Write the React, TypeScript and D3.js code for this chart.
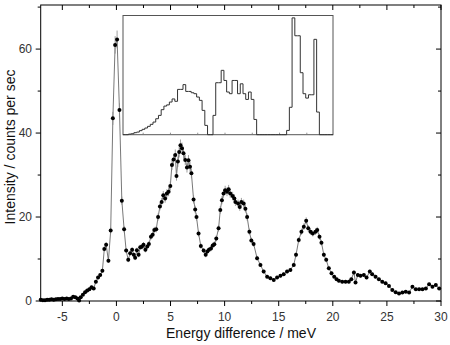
import React from "react";
import * as d3 from "d3";

const energy = [
  -7.0, -6.8, -6.6, -6.4, -6.2, -6.0, -5.8, -5.6, -5.4, -5.2, -5.0, -4.8, -4.6, -4.4, -4.2, -4.0, -3.8, -3.6, -3.45,
  -3.3, -3.1, -2.9, -2.7, -2.5, -2.3, -2.1, -1.9, -1.7, -1.5, -1.3, -1.12, -0.95, -0.74, -0.53, -0.33, -0.12, 0.06,
  0.28, 0.5, 0.71, 0.9, 1.09, 1.27, 1.45, 1.6, 1.73, 1.89, 2.05, 2.2, 2.35, 2.5, 2.68, 2.85, 3.0, 3.19, 3.35, 3.5,
  3.68, 3.85, 4.02, 4.18, 4.33, 4.5, 4.66, 4.82, 4.98, 5.13, 5.28, 5.44, 5.55, 5.68, 5.8, 5.92, 6.06, 6.2, 6.36,
  6.52, 6.66, 6.8, 6.93, 7.13, 7.28, 7.4, 7.59, 7.8, 8.06, 8.25, 8.4, 8.55, 8.74, 8.9, 9.05, 9.23, 9.44, 9.6, 9.75,
  9.9, 10.05, 10.22, 10.37, 10.52, 10.74, 10.9, 11.0, 11.24, 11.4, 11.55, 11.76, 11.92, 12.08, 12.29, 12.47, 12.68,
  13.0, 13.31, 13.61, 13.93, 14.23, 14.54, 14.85, 15.16, 15.46, 15.77, 16.08, 16.39, 16.6, 16.85, 17.1, 17.32,
  17.54, 17.73, 17.94, 18.15, 18.4, 18.56, 18.77, 18.95, 19.17, 19.39, 19.63, 19.88, 20.13, 20.35, 20.56, 20.87,
  21.18, 21.48, 21.71, 21.95, 22.1, 22.31, 22.56, 22.87, 23.12, 23.42, 23.64, 23.95, 24.26, 24.57, 24.88, 25.19,
  25.5, 25.81, 26.12, 26.43, 26.74, 27.05, 27.36, 27.67, 27.98, 28.29, 28.6, 28.9, 29.21, 29.52, 29.83,
];

const intensity = [
  0.3, 0.2, 0.2, 0.3, 0.3, 0.4, 0.3, 0.4, 0.5, 0.5, 0.6, 0.5, 0.6, 0.5, 0.6, 1.0, 0.9, 0.6, 0.1,
  0.9, 1.5, 2.1, 2.5, 2.8, 3.3, 3.0, 4.6, 5.6, 6.2, 7.2, 12.4, 13.4, 9.6, 16.8, 43.5, 61.0, 62.3,
  45.5, 23.9, 17.1, 12.0, 9.8, 11.4, 12.2, 11.0, 10.3, 12.1, 11.0, 12.8, 12.9, 13.4, 12.2, 13.0, 13.6, 15.3, 15.8, 16.9,
  17.1, 20.0, 22.5, 23.6, 25.2, 24.4, 25.6, 26.0, 27.4, 32.4, 33.7, 34.8, 29.8, 33.2, 35.5, 37.1, 36.4, 35.2, 33.6,
  31.8, 33.5, 32.0, 30.4, 24.2, 21.8, 20.0, 16.1, 13.1, 12.0, 11.0, 11.8, 12.2, 12.5, 13.2, 13.5, 14.9, 17.3, 21.7, 24.0,
  25.6, 26.4, 26.0, 26.6, 25.6, 25.0, 24.4, 23.6, 23.2, 22.4, 23.6, 23.2, 22.0, 20.0, 16.5, 14.4, 13.6,
  10.2, 8.6, 7.0, 5.8, 5.4, 5.0, 5.6, 6.0, 6.4, 7.0, 7.4, 8.6, 11.0, 14.5, 16.5, 17.7,
  19.1, 17.3, 16.5, 16.1, 16.5, 16.9, 15.3, 13.9, 11.0, 9.8, 7.8, 6.6, 5.8, 5.2, 4.8, 4.6,
  4.6, 4.6, 5.2, 6.8, 4.4, 6.2, 6.0, 6.2, 5.6, 7.0, 6.4, 5.8, 5.2, 4.6, 4.2, 3.6,
  2.6, 2.1, 1.8, 2.0, 2.2, 2.0, 3.4, 2.8, 2.8, 2.8, 3.0, 4.0, 3.4, 3.8, 3.0,
];

const xTickLabels = [-5, 0, 5, 10, 15, 20, 25, 30];
const xMinorTicks = [-2.5, 2.5, 7.5, 12.5, 17.5, 22.5, 27.5];
const yTickLabels = [0, 20, 40, 60];
const yMinorTicks = [10, 30, 50, 70];

// inset histogram (arbitrary units), bins of width 0.5 starting at 1.3
const insetStart = 1.3;
const insetBinWidth = 0.5;
const insetHeights = [
  0, 0, 0.005, 0.008, 0.017, 0.022, 0.034, 0.045, 0.056, 0.07, 0.087, 0.106, 0.134, 0.162, 0.21, 0.24,
  0.25, 0.274, 0.3, 0.28, 0.38, 0.38, 0.42, 0.363, 0.363, 0.352, 0.344, 0.316, 0.288, 0.204, 0.078, 0,
  0, 0.162, 0.436, 0.436, 0.54, 0.455, 0.358, 0.344, 0.455, 0.455, 0.344, 0.427, 0.344, 0.296, 0.358, 0.296,
  0.128, 0, 0, 0, 0, 0, 0, 0, 0, 0, 0, 0, 0.036, 0.23, 0.98, 0.83, 0.83, 0.52, 0.344, 0.307, 0.335, 0.335,
  0.8, 0.19, 0, 0, 0, 0, 0,
];
const insetTicks = [5, 10, 15, 20, 25, 30, 35];

export default function App() {
  const W = 450, H = 345;
  const left = 40.7, right = 441, top = 5, bottom = 301;
  const x = d3.scaleLinear().domain([-7, 30]).range([left, right]);
  const y = d3.scaleLinear().domain([0, 70.5]).range([bottom, top]);

  const pts = energy.map((e, i) => ({ e, v: intensity[i], err: 0.25 + 0.03 * intensity[i] }));
  const line = d3.line<{ e: number; v: number }>().x((d) => x(d.e)).y((d) => y(d.v));

  // inset
  const iL = 123, iR = 333, iT = 15.5, iB = 134.7;
  const ix = d3.scaleLinear().domain([insetStart, insetStart + insetBinWidth * insetHeights.length]).range([iL, iR]);
  const iy = d3.scaleLinear().domain([0, 1]).range([iB, iT]);
  const stepPts: [number, number][] = insetHeights.map((h, i) => [insetStart + i * insetBinWidth, h]);
  stepPts.push([insetStart + insetHeights.length * insetBinWidth, insetHeights[insetHeights.length - 1]]);
  const stepLine = d3.line<[number, number]>().x((d) => ix(d[0])).y((d) => iy(d[1])).curve(d3.curveStepAfter);

  const font = "'Liberation Sans', Arial, sans-serif";

  return (
    <svg width={W} height={H} style={{ position: "absolute", left: 0, top: 0, background: "#fff" }}>
      <rect x={0} y={0} width={W} height={H} fill="#fff" />
      {/* data */}
      <path d={line(pts) || ""} fill="none" stroke="#555" strokeWidth={0.8} />
      {pts.map((d, i) => (
        <line key={"e" + i} x1={x(d.e)} x2={x(d.e)} y1={y(d.v - d.err)} y2={y(d.v + d.err)} stroke="#888" strokeWidth={0.8} />
      ))}
      {pts.map((d, i) => (
        <circle key={"p" + i} cx={x(d.e)} cy={y(d.v)} r={2} fill="#000" />
      ))}

      {/* inset */}
      <rect x={iL} y={iT} width={iR - iL} height={iB - iT} fill="none" stroke="#555" strokeWidth={1} />
      {insetTicks.map((t) => (
        <line key={"it" + t} x1={ix(t)} x2={ix(t)} y1={iB} y2={iB - 2} stroke="#777" strokeWidth={0.8} />
      ))}
      <path d={stepLine(stepPts) || ""} fill="none" stroke="#333" strokeWidth={1} />

      {/* frame */}
      <rect x={left} y={top} width={right - left} height={bottom - top} fill="none" stroke="#000" strokeWidth={1} />

      {/* bottom ticks (outward) & top ticks (inward) */}
      {xTickLabels.map((t) => (
        <g key={"xt" + t}>
          <line x1={x(t)} x2={x(t)} y1={bottom} y2={bottom + 5} stroke="#000" />
          <line x1={x(t)} x2={x(t)} y1={top} y2={top + 5} stroke="#000" />
          <text x={x(t)} y={321} textAnchor="middle" fontFamily={font} fontSize={12} fill="#333">
            {t}
          </text>
        </g>
      ))}
      {xMinorTicks.map((t) => (
        <g key={"xm" + t}>
          <line x1={x(t)} x2={x(t)} y1={bottom} y2={bottom + 3} stroke="#000" />
          <line x1={x(t)} x2={x(t)} y1={top} y2={top + 3} stroke="#000" />
        </g>
      ))}
      {yTickLabels.map((t) => (
        <g key={"yt" + t}>
          <line x1={left - 5} x2={left} y1={y(t)} y2={y(t)} stroke="#000" />
          <line x1={right - 5} x2={right} y1={y(t)} y2={y(t)} stroke="#000" />
          <text x={32} y={y(t) + 4.3} textAnchor="end" fontFamily={font} fontSize={12} fill="#333">
            {t}
          </text>
        </g>
      ))}
      {yMinorTicks.map((t) => (
        <g key={"ym" + t}>
          <line x1={left - 3} x2={left} y1={y(t)} y2={y(t)} stroke="#000" />
          <line x1={right - 3} x2={right} y1={y(t)} y2={y(t)} stroke="#000" />
        </g>
      ))}

      {/* titles */}
      <text x={241} y={338} textAnchor="middle" fontFamily={font} fontSize={14} fill="#111">
        Energy difference / meV
      </text>
      <text transform={`translate(15, 147) rotate(-90)`} textAnchor="middle" fontFamily={font} fontSize={14} fill="#111">
        Intensity / counts per sec
      </text>
    </svg>
  );
}
